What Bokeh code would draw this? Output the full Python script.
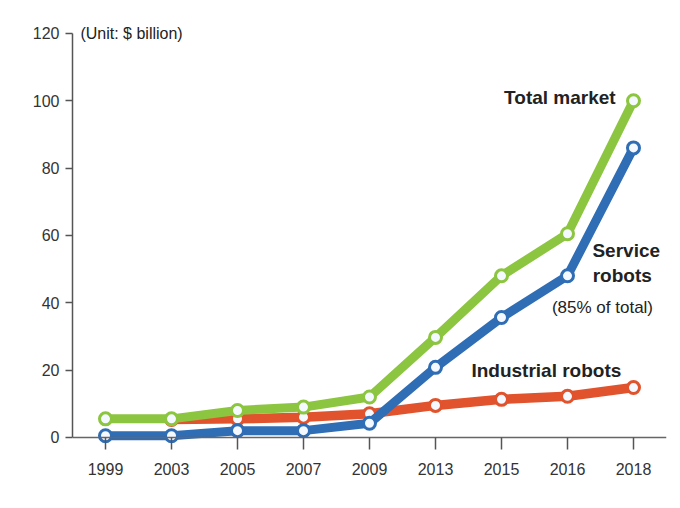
from bokeh.plotting import figure
from bokeh.models import FactorRange, Range1d, Label, FixedTicker
from bokeh.embed import file_html
from bokeh.resources import INLINE

years = ["1999", "2003", "2005", "2007", "2009", "2013", "2015", "2016", "2018"]
total_market = [5.5, 5.5, 8.0, 9.0, 12.0, 29.7, 48.0, 60.5, 100.0]
service_robots = [0.5, 0.5, 2.0, 2.0, 4.2, 20.8, 35.6, 48.0, 86.0]
industrial_years = ["2003", "2005", "2007", "2009", "2013", "2015", "2016", "2018"]
industrial_robots = [5.3, 5.5, 6.0, 7.0, 9.5, 11.3, 12.2, 14.8]
y_ticks = [0, 20, 40, 60, 80, 100, 120]

FONT = "Liberation Sans"
GREEN = "#8cc540"
BLUE = "#2f6db5"
RED = "#e0532d"

p = figure(width=672, height=500,
           x_range=FactorRange(factors=years, range_padding=0),
           y_range=Range1d(-14, 123.85),
           output_backend="svg", toolbar_location=None,
           min_border_left=72, min_border_right=6,
           min_border_top=20, min_border_bottom=16)
p.outline_line_color = None
p.grid.visible = False
p.background_fill_color = "white"

for xs, ys, col, w in [(industrial_years, industrial_robots, RED, 9.5),
                       (years, service_robots, BLUE, 9),
                       (years, total_market, GREEN, 9)]:
    p.line(xs, ys, line_color=col, line_width=w, line_join="round")
    p.scatter(xs, ys, marker="circle", size=12, fill_color="#f4f8ff",
              line_color=col, line_width=3)

# axes
p.yaxis.ticker = FixedTicker(ticks=y_ticks)
p.yaxis.bounds = (0, 120)
p.yaxis.axis_line_color = "#555555"
p.yaxis.axis_line_width = 1.5
p.yaxis.major_tick_line_color = "#555555"
p.yaxis.major_tick_line_width = 1.5
p.yaxis.major_tick_in = 0
p.yaxis.major_tick_out = 7
p.yaxis.minor_tick_line_color = None
p.yaxis.major_label_text_font = FONT
p.yaxis.major_label_text_font_size = "16px"
p.yaxis.major_label_text_color = "#333333"
p.yaxis.major_label_standoff = 6

p.xaxis.fixed_location = 0
p.xaxis.axis_line_color = "#666666"
p.xaxis.axis_line_width = 1.5
p.xaxis.major_tick_line_color = "#555555"
p.xaxis.major_tick_line_width = 1.5
p.xaxis.major_tick_in = 0
p.xaxis.major_tick_out = 12
p.xaxis.major_label_text_font = FONT
p.xaxis.major_label_text_font_size = "16px"
p.xaxis.major_label_text_color = "#333333"
p.xaxis.major_label_standoff = 14

labels = [
    dict(x=0.12, y=120, text="(Unit: $ billion)", text_align="left", size="16px", style="normal"),
    dict(x=8.23, y=101, text="Total market", text_align="right", size="19px", style="bold"),
    dict(x=8.39, y=55.5, text="Service", text_align="center", size="19px", style="bold"),
    dict(x=8.33, y=48.1, text="robots", text_align="center", size="19px", style="bold"),
    dict(x=8.03, y=38.6, text="(85% of total)", text_align="center", size="17px", style="normal"),
    dict(x=7.18, y=19.9, text="Industrial robots", text_align="center", size="19px", style="bold"),
]
for d in labels:
    p.add_layout(Label(x=d["x"], y=d["y"], text=d["text"], text_align=d["text_align"],
                       text_baseline="middle", text_font=FONT, text_font_size=d["size"],
                       text_font_style=d["style"], text_color="#222222"))

open("out.html", "w").write(file_html(p, INLINE))
